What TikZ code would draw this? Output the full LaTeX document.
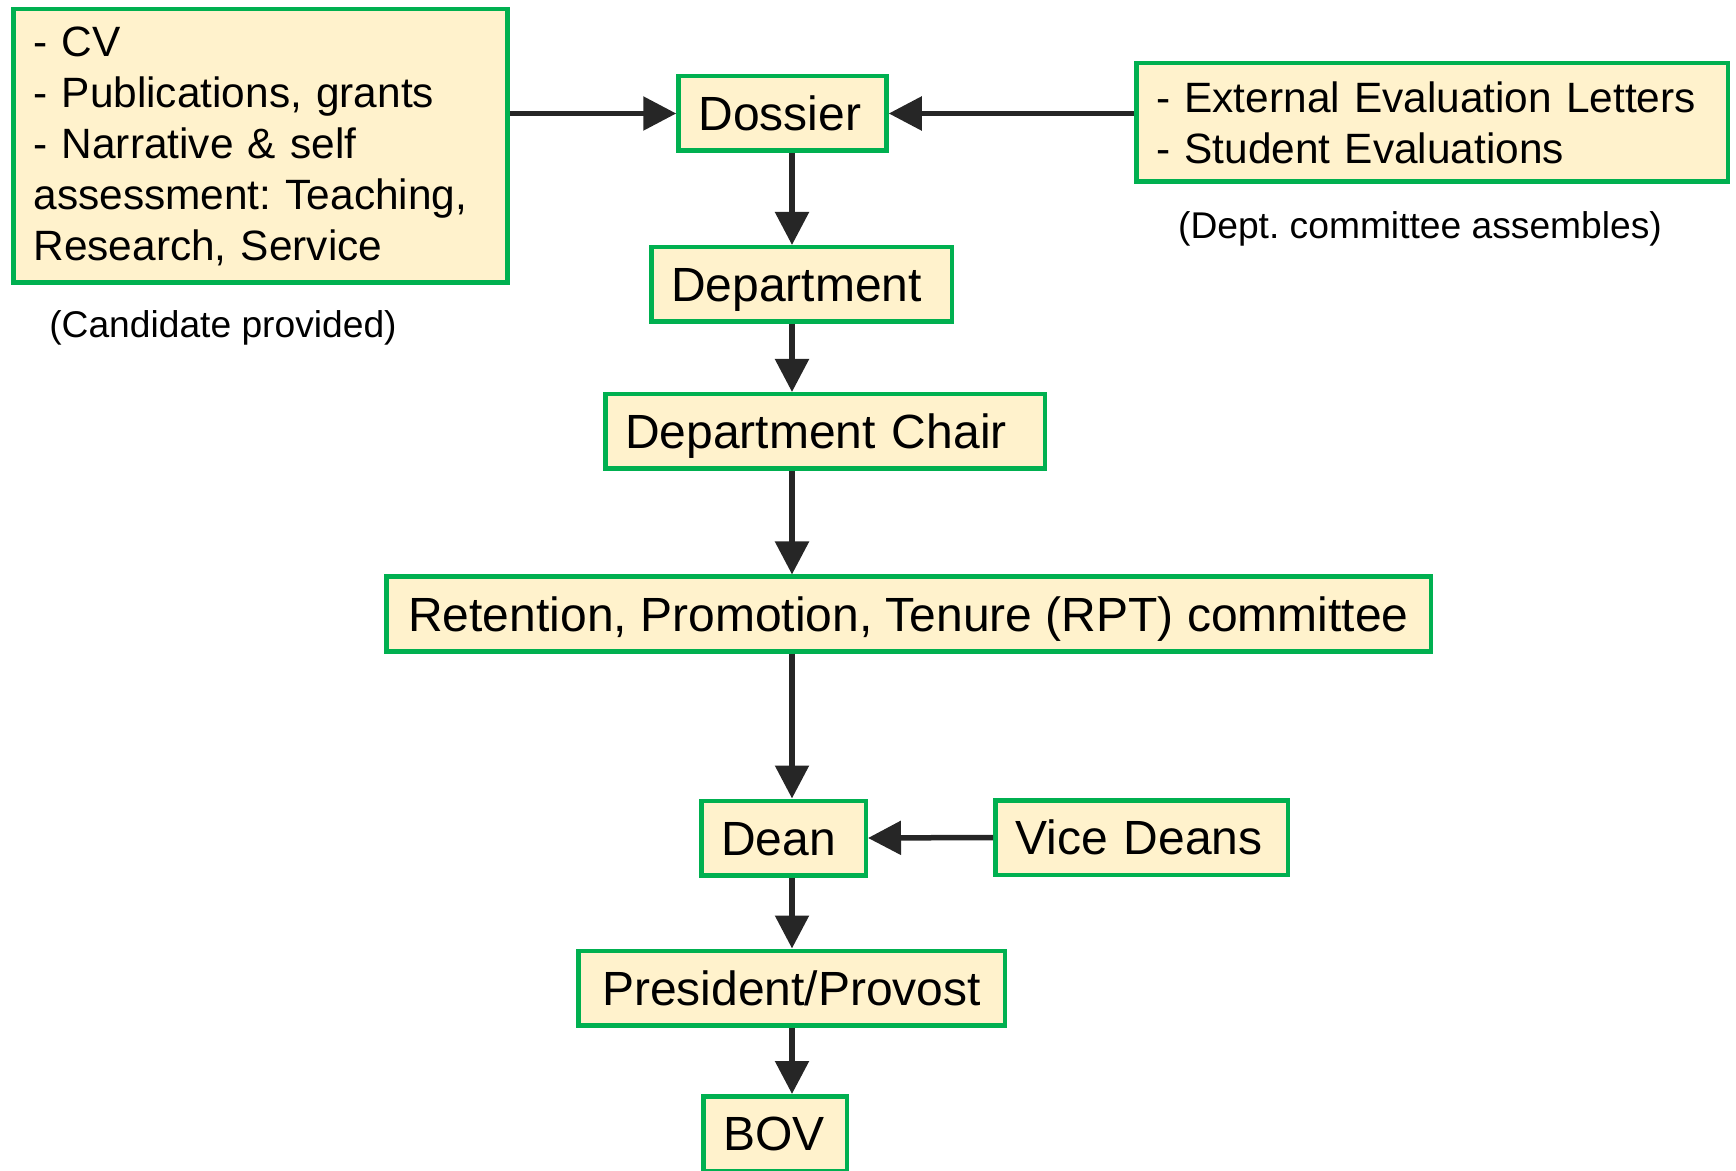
\documentclass[tikz,border=0pt]{standalone}
\usepackage{fontspec}
\setmainfont{Liberation Sans}
\usetikzlibrary{arrows.meta}
\definecolor{boxfill}{HTML}{FFF2CC}
\definecolor{boxline}{HTML}{00B050}
\definecolor{arrowc}{HTML}{262626}
\tikzset{Frame/.style={draw=boxline, fill=boxfill, line width=2.25pt, inner xsep=10pt, inner ysep=4pt},
         Box/.style={Frame, align=left, minimum height=37.25pt, text height=17.2pt, text depth=0pt,
           font=\fontsize{24}{28.8}\selectfont},
         List/.style={Frame, align=left, font=\fontsize{21.2}{25.5}\selectfont},
         Note/.style={font=\fontsize{18.6}{22}\selectfont},
         Flow/.style={draw=arrowc, line width=2.75pt, -{Triangle[length=16.5pt,width=16.5pt]}}}

\begin{document}
\frenchspacing
\begin{tikzpicture}[x=0.5pt, y=-0.5pt]
  \useasboundingbox (0,0) rectangle (1736,1171);
    \node[List, text width=227pt, minimum height=136.75pt] (Cand) at (260.5,146) {- CV\\- Publications, grants\\- Narrative \& self\\assessment: Teaching,\\Research, Service};
    \node[Note] (CandN) at (223,328) {(Candidate provided)};
    \node[List, text width=275.75pt, minimum height=59.25pt] (Ext) at (1432,122.5) {- External Evaluation Letters\\- Student Evaluations};
    \node[Note] (ExtN) at (1420,229) {(Dept. committee assembles)};
    \node[Box, text width=84pt] (Doss) at (782.5,113.5) {Dossier};
    \node[Box, text width=130.25pt] (Dept) at (801.5,284.5) {Department};
    \node[Box, text width=199.75pt] (Chair) at (825,431.5) {Department Chair};
    \node[Box, minimum width=522.25pt, align=center] (RPT) at (908.5,614) {Retention, Promotion, Tenure (RPT) committee};
    \node[Box, text width=62.25pt] (Dean) at (783.5,838) {Dean};
    \node[Box, text width=126.25pt] (VD) at (1141.5,837.5) {Vice Deans};
    \node[Box, text width=193.25pt, align=center] (Pres) at (791.5,988) {President/Provost};
    \node[Box, text width=51.75pt] (BOV) at (775,1133.5) {BOV};
    \coordinate (spine) at (792,0);
  \path[every edge/.style={Flow}]
    (Cand.east |- Doss.west) edge (Doss.west)
    (Ext.west |- Doss.east) edge (Doss.east)
    (Doss.south -| spine) edge (Dept.north -| spine)
    (Dept.south -| spine) edge (Chair.north -| spine)
    (Chair.south -| spine) edge (RPT.north -| spine)
    (RPT.south -| spine) edge (Dean.north -| spine)
    (VD.west) edge (Dean.east)
    (Dean.south -| spine) edge (Pres.north -| spine)
    (Pres.south -| spine) edge (BOV.north -| spine);
\end{tikzpicture}
\end{document}
